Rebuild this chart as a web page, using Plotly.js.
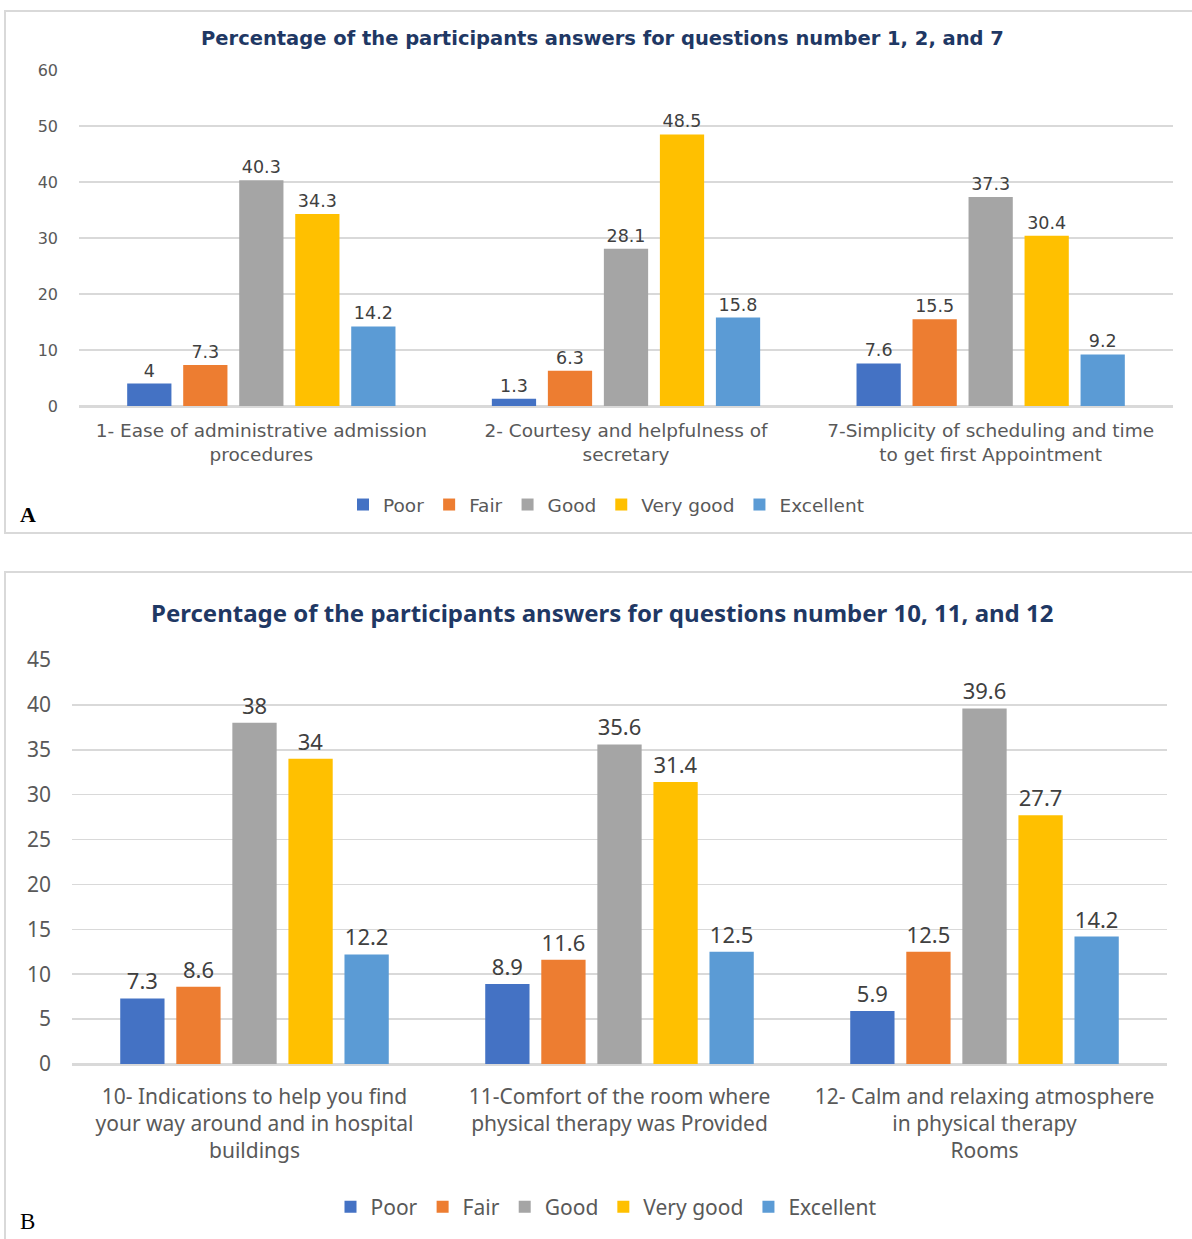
<!DOCTYPE html>
<html>
<head>
<meta charset="utf-8">
<script src="https://cdn.plot.ly/plotly-3.0.1.min.js"></script>
<style>
html,body{margin:0;padding:0;background:#fff;}
#chart{width:1192px;height:1239px;}
</style>
</head>
<body>
<div id="chart"></div>
<script>
// ---------- Data ----------
const seriesNames = ["Poor", "Fair", "Good", "Very good", "Excellent"];
const seriesColors = ["#4472C4", "#ED7D31", "#A5A5A5", "#FFC000", "#5B9BD5"];

const titleA = "Percentage of the participants answers for questions number 1, 2, and 7";
const categoriesA = [
  "1- Ease of administrative admission<br>procedures",
  "2- Courtesy and helpfulness of<br>secretary",
  "7-Simplicity of scheduling and time<br>to get first Appointment"
];
const poorA = [4, 1.3, 7.6];
const fairA = [7.3, 6.3, 15.5];
const goodA = [40.3, 28.1, 37.3];
const veryGoodA = [34.3, 48.5, 30.4];
const excellentA = [14.2, 15.8, 9.2];

const titleB = "Percentage of the participants answers for questions number 10, 11, and 12";
const categoriesB = [
  "10- Indications to help you find<br>your way around and in hospital<br>buildings",
  "11-Comfort of the room where<br>physical therapy was Provided",
  "12- Calm and relaxing atmosphere<br>in physical therapy<br>Rooms"
];
const poorB = [7.3, 8.9, 5.9];
const fairB = [8.6, 11.6, 12.5];
const goodB = [38, 35.6, 39.6];
const veryGoodB = [34, 31.4, 27.7];
const excellentB = [12.2, 12.5, 14.2];

// ---------- Build ----------
const W = 1192, H = 1239;
const px = v => v / W;
const py = v => 1 - v / H;

const fontA = "DejaVu Sans, Verdana, sans-serif";
const fontB = "Noto Sans, Calibri, sans-serif";
const labelColor = "#404040";
const tickColor = "#595959";
const gridColor = "#D9D9D9";

const valuesA = [poorA, fairA, goodA, veryGoodA, excellentA];
const valuesB = [poorB, fairB, goodB, veryGoodB, excellentB];

const traces = [];
valuesA.forEach((vals, i) => {
  traces.push({
    type: "bar", name: seriesNames[i], x: categoriesA, y: vals,
    xaxis: "x", yaxis: "y", legend: "legend",
    marker: {color: seriesColors[i]},
    text: vals.map(String), textposition: "outside", cliponaxis: false,
    constraintext: "none",
    textfont: {family: fontA, size: 17.5, color: labelColor},
    hoverinfo: "skip"
  });
});
valuesB.forEach((vals, i) => {
  traces.push({
    type: "bar", name: seriesNames[i], x: categoriesB, y: vals,
    xaxis: "x2", yaxis: "y2", legend: "legend2",
    marker: {color: seriesColors[i]},
    text: vals.map(String), textposition: "outside", cliponaxis: false,
    constraintext: "none",
    textfont: {family: fontB, size: 22, color: labelColor},
    hoverinfo: "skip"
  });
});

const layout = {
  width: W, height: H,
  margin: {l: 0, r: 0, t: 0, b: 0},
  paper_bgcolor: "#fff", plot_bgcolor: "rgba(0,0,0,0)",
  barmode: "group", bargap: 0.232, bargroupgap: 0.21,
  showlegend: true,
  xaxis: {
    domain: [px(79), px(1173)], anchor: "y",
    showline: true, linecolor: gridColor, linewidth: 1.5,
    ticks: "", ticklabelstandoff: 7,
    tickfont: {family: fontA, size: 18.5, color: tickColor},
    fixedrange: true
  },
  yaxis: {
    domain: [py(406), py(70)], anchor: "x",
    range: [0, 60], dtick: 10, tick0: 0,
    showgrid: true, gridcolor: gridColor, gridwidth: 1.5,
    zeroline: true, zerolinecolor: gridColor, zerolinewidth: 1.5,
    showline: false, ticks: "", ticklabelstandoff: 20,
    tickfont: {family: fontA, size: 16, color: tickColor},
    fixedrange: true
  },
  xaxis2: {
    domain: [px(72), px(1167)], anchor: "y2",
    showline: true, linecolor: gridColor, linewidth: 1.5,
    ticks: "", ticklabelstandoff: 13,
    tickfont: {family: fontB, size: 21, color: tickColor},
    fixedrange: true
  },
  yaxis2: {
    domain: [py(1064), py(660)], anchor: "x2",
    range: [0, 45], dtick: 5, tick0: 0,
    showgrid: true, gridcolor: gridColor, gridwidth: 1.5,
    zeroline: true, zerolinecolor: gridColor, zerolinewidth: 1.5,
    showline: false, ticks: "", ticklabelstandoff: 20,
    tickfont: {family: fontB, size: 21, color: tickColor},
    fixedrange: true
  },
  legend: {
    orientation: "h", x: px(606), xanchor: "center", y: py(505), yanchor: "middle",
    font: {family: fontA, size: 18.5, color: tickColor},
    itemclick: false, itemdoubleclick: false, bgcolor: "rgba(0,0,0,0)"
  },
  legend2: {
    orientation: "h", x: px(606), xanchor: "center", y: py(1207), yanchor: "middle",
    font: {family: fontB, size: 21, color: tickColor},
    itemclick: false, itemdoubleclick: false, bgcolor: "rgba(0,0,0,0)"
  },
  annotations: [
    {text: "<b>" + titleA + "</b>", xref: "paper", yref: "paper", x: px(602), y: py(39),
     xanchor: "center", yanchor: "middle", showarrow: false,
     font: {family: fontA, size: 19.5, color: "#1F3864"}},
    {text: "<b>" + titleB + "</b>", xref: "paper", yref: "paper", x: px(602), y: py(612),
     xanchor: "center", yanchor: "middle", showarrow: false,
     font: {family: fontB, size: 24, color: "#1F3864"}},
    {text: "<b>A</b>", xref: "paper", yref: "paper", x: px(18), y: py(514),
     xanchor: "left", yanchor: "middle", showarrow: false,
     font: {family: "Liberation Serif, Times New Roman, serif", size: 22, color: "#000"}},
    {text: "B", xref: "paper", yref: "paper", x: px(18), y: py(1221),
     xanchor: "left", yanchor: "middle", showarrow: false,
     font: {family: "Liberation Serif, Times New Roman, serif", size: 23, color: "#000"}}
  ],
  shapes: [
    {type: "rect", xref: "paper", yref: "paper", x0: px(5), x1: 1.02, y0: py(533), y1: py(11),
     line: {color: "#D9D9D9", width: 2}, fillcolor: "rgba(0,0,0,0)", layer: "below"},
    {type: "rect", xref: "paper", yref: "paper", x0: px(5), x1: 1.02, y0: -0.02, y1: py(572),
     line: {color: "#D9D9D9", width: 2}, fillcolor: "rgba(0,0,0,0)", layer: "below"}
  ]
};

Plotly.newPlot("chart", traces, layout, {displayModeBar: false, staticPlot: true});
</script>
</body>
</html>
